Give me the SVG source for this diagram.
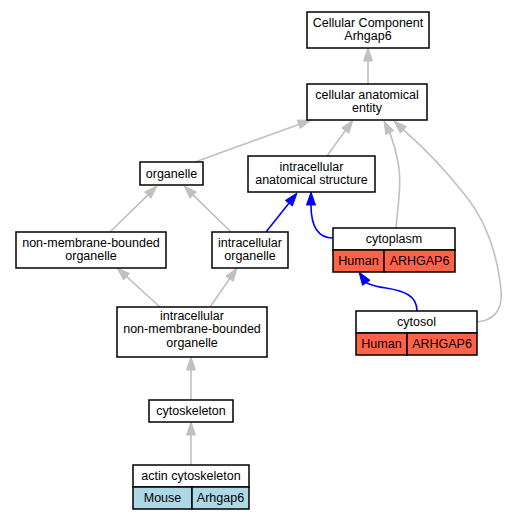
<svg xmlns="http://www.w3.org/2000/svg" width="507" height="520" viewBox="0 0 507 520">
<style>
text{font-family:"Liberation Sans",Arial,sans-serif;font-size:12.5px;text-anchor:middle;fill:#000}
.box{fill:#fff;stroke:#000;stroke-width:1.5}
.hum{fill:#ff6347;stroke:#000;stroke-width:1.5}
.mou{fill:#add8e6;stroke:#000;stroke-width:1.5}
.g{fill:none;stroke:#c0c0c0;stroke-width:1.6}
.ga{fill:#c0c0c0;stroke:#c0c0c0}
.b{fill:none;stroke:#0000ff;stroke-width:1.6}
.ba{fill:#0000ff;stroke:#0000ff}
</style>
<rect width="507" height="520" fill="#fff"/>
<g id="connectors">
<path class="g" d="M368,84 L368,61"/><polygon class="ga" points="363.5,61 368,48 372.5,61"/>
<path class="g" d="M195,162 L298.8,124.4"/><polygon class="ga" points="300.3,128.6 311,120 297.2,120.2"/>
<path class="g" d="M327,156 L345.4,130.5"/><polygon class="ga" points="349,133.2 353,120 341.7,127.9"/>
<path class="g" d="M396,228 C398,205 402,182 398,162 C396,151 393,141 389.8,132.6"/><polygon class="ga" points="393.8,130.6 384,121 385.8,134.6"/>
<path class="g" d="M477,322 C495,320 503,310 501,290 C497,250 485,220 465,195 C447,172 424,148 403.5,129.9"/><polygon class="ga" points="406.6,126.6 394,121 400.4,133.2"/>
<path class="g" d="M110,232 L147.7,195.1"/><polygon class="ga" points="150.9,198.3 157,186 144.6,191.9"/>
<path class="g" d="M231,232 L193.3,195.1"/><polygon class="ga" points="196.4,191.9 184,186 190.1,198.3"/>
<path class="b" d="M266,232 L288.9,203.2"/><polygon class="ba" points="292.4,206 297,193 285.4,200.4"/>
<path class="b" d="M333,238 C318,238 311,226 311,205"/><polygon class="ba" points="306.5,205 311,192 315.5,205"/>
<path class="b" d="M417,311 C417,296 405,291 386,288 C378,287 371,285 366.2,282.8"/><polygon class="ba" points="370,280.3 359,272 362.5,285.3"/>
<path class="g" d="M160,307 L126.6,276.7"/><polygon class="ga" points="129.6,273.4 117,268 123.6,280"/>
<path class="g" d="M210,307 L229.6,278.7"/><polygon class="ga" points="233.3,281.3 237,268 225.9,276.1"/>
<path class="g" d="M191,400 L191,370"/><polygon class="ga" points="186.5,370 191,357 195.5,370"/>
<path class="g" d="M191,465 L191,435"/><polygon class="ga" points="186.5,435 191,422 195.5,435"/>
</g>
<g id="cc_arhgap6">
<rect class="box" x="307" y="12" width="122" height="36"/>
<text x="368" y="26.7">Cellular Component</text>
<text x="368" y="40.2">Arhgap6</text>
</g>
<g id="cellular_anatomical_entity">
<rect class="box" x="307" y="84" width="120" height="36"/>
<text x="367" y="98.7">cellular anatomical</text>
<text x="367" y="112.2">entity</text>
</g>
<g id="organelle">
<rect class="box" x="140" y="162" width="63" height="23"/>
<text x="171.5" y="177.5">organelle</text>
</g>
<g id="intracellular_anatomical_structure">
<rect class="box" x="248" y="156" width="127" height="36"/>
<text x="311.5" y="170.7">intracellular</text>
<text x="311.5" y="184.2">anatomical structure</text>
</g>
<g id="non_membrane_bounded_organelle">
<rect class="box" x="16" y="232" width="150" height="36"/>
<text x="91" y="246.7">non-membrane-bounded</text>
<text x="91" y="260.2">organelle</text>
</g>
<g id="intracellular_organelle">
<rect class="box" x="212" y="232" width="76" height="36"/>
<text x="250" y="246.7">intracellular</text>
<text x="250" y="260.2">organelle</text>
</g>
<g id="cytoplasm">
<rect class="box" x="333" y="228" width="122" height="22"/>
<rect class="hum" x="333" y="250" width="51" height="22"/>
<rect class="hum" x="384" y="250" width="71" height="22"/>
<text x="394" y="243.3">cytoplasm</text>
<text x="358.5" y="265.3">Human</text>
<text x="419.5" y="265.3">ARHGAP6</text>
</g>
<g id="intracellular_non_membrane_bounded_organelle">
<rect class="box" x="117" y="307" width="150" height="50"/>
<text x="192" y="319.7">intracellular</text>
<text x="192" y="333.2">non-membrane-bounded</text>
<text x="192" y="346.7">organelle</text>
</g>
<g id="cytosol">
<rect class="box" x="356" y="311" width="121" height="22"/>
<rect class="hum" x="356" y="333" width="51" height="22"/>
<rect class="hum" x="407" y="333" width="70" height="22"/>
<text x="416.5" y="326.3">cytosol</text>
<text x="381.5" y="348.3">Human</text>
<text x="442" y="348.3">ARHGAP6</text>
</g>
<g id="cytoskeleton">
<rect class="box" x="149" y="400" width="84" height="22"/>
<text x="191" y="415.3">cytoskeleton</text>
</g>
<g id="actin_cytoskeleton">
<rect class="box" x="133" y="465" width="116" height="22"/>
<rect class="mou" x="133" y="487" width="59" height="22"/>
<rect class="mou" x="192" y="487" width="57" height="22"/>
<text x="191" y="480.3">actin cytoskeleton</text>
<text x="162.5" y="502.3">Mouse</text>
<text x="220.5" y="502.3">Arhgap6</text>
</g>
</svg>
